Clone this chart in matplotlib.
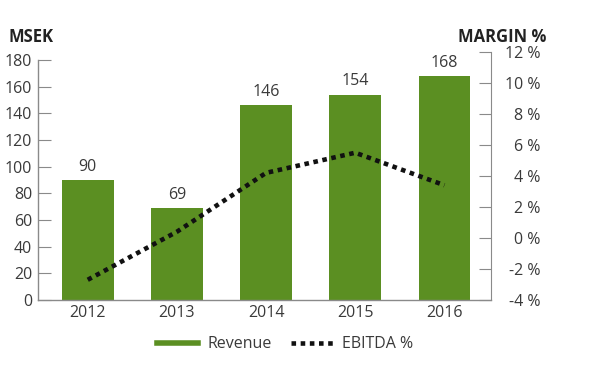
import matplotlib.pyplot as plt
import numpy as np
from matplotlib.lines import Line2D

plt.rcParams['font.family'] = ['Open Sans', 'DejaVu Sans']

years = ['2012', '2013', '2014', '2015', '2016']
revenue = [90, 69, 146, 154, 168]
ebitda = [-2.7, 0.4, 4.2, 5.5, 3.4]
left_ticks = [0, 20, 40, 60, 80, 100, 120, 140, 160, 180]
right_ticks = [-4, -2, 0, 2, 4, 6, 8, 10, 12]

green = '#5b8f22'
grey = '#8a8a8a'
txt = '#3a3a3a'
fs = 11.5

fig = plt.figure(figsize=(6, 3.88), dpi=100)
ax = fig.add_axes([0.063, 0.227, 0.755, 0.639])
x = np.arange(len(years))
ax.bar(x, revenue, width=0.58, color=green, label='Revenue', zorder=2)
for xi, v in zip(x, revenue):
    ax.text(xi, v + 4, str(v), ha='center', va='bottom', fontsize=fs, color=txt)

ax.set_xlim(-0.56, 4.52)
ax.set_ylim(0, 186)
ax.set_yticks(left_ticks)
ax.set_xticks(x)
ax.set_xticklabels(years)
ax.tick_params(axis='y', direction='in', length=9, color=grey, labelsize=fs, labelcolor=txt, pad=4)
ax.tick_params(axis='x', length=0, labelsize=fs, labelcolor=txt, pad=4)
for s in ['top', 'right']:
    ax.spines[s].set_visible(False)
for s in ['left', 'bottom']:
    ax.spines[s].set_color(grey)
    ax.spines[s].set_linewidth(1)
ax.spines['left'].set_bounds(0, 180)

ax2 = ax.twinx()
ax2.plot(x, ebitda, color='#111111', lw=3.3, linestyle=(0, (1, 1)), zorder=3)
ax2.set_ylim(-4, 12)
ax2.set_yticks(right_ticks)
ax2.set_yticklabels([f'{t} %' for t in right_ticks], ha='right')
ax2.tick_params(axis='y', direction='in', length=9, color=grey, labelsize=fs, labelcolor=txt, pad=36)
for s in ['top', 'left', 'bottom']:
    ax2.spines[s].set_visible(False)
ax2.spines['right'].set_color(grey)

fig.text(0.015, 0.905, 'MSEK', fontsize=12, fontweight='bold', color='#222222', va='center')
fig.text(0.91, 0.905, 'MARGIN %', fontsize=12, fontweight='bold', color='#222222', va='center', ha='right')

handles = [Line2D([0], [0], color=green, lw=4),
           Line2D([0], [0], color='#111111', lw=3.3, linestyle=(0, (1, 1)))]
fig.legend(handles, ['Revenue', 'EBITDA %'], loc='center', bbox_to_anchor=(0.475, 0.113), ncol=2,
           frameon=False, fontsize=fs, handlelength=2.6, handletextpad=0.6, columnspacing=1.2, labelcolor=txt)

plt.savefig('out.png')
